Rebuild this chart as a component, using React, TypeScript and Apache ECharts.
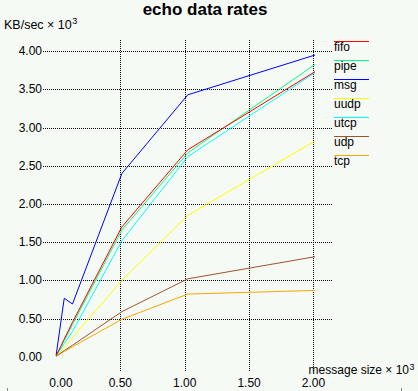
import React, { useEffect, useRef } from "react";
import * as echarts from "echarts";

const xValues = [0.001, 0.064, 0.128, 0.512, 1.024, 2.048];
const seriesNames = ["fifo", "pipe", "msg", "uudp", "utcp", "udp", "tcp"];
const seriesColors = ["#ff0000", "#00ff7f", "#0000ff", "#ffff00", "#00ffff", "#a0522d", "#ffa500"];
const fifo = [0.01, 0.23, 0.45, 1.7, 2.71, 3.77];
const pipe = [0.01, 0.21, 0.42, 1.66, 2.67, 3.87];
const msg = [0.02, 0.765, 0.69, 2.4, 3.43, 3.97];
const uudp = [0.005, 0.12, 0.25, 1.0, 1.85, 2.86];
const utcp = [0.01, 0.17, 0.33, 1.52, 2.62, 3.76];
const udp = [0.005, 0.08, 0.15, 0.59, 1.02, 1.32];
const tcp = [0.005, 0.07, 0.13, 0.49, 0.82, 0.87];
const seriesValues = [fifo, pipe, msg, uudp, utcp, udp, tcp];
const xTicks = [0.5, 1.0, 1.5, 2.0];
const yTicks = [0.5, 1.0, 1.5, 2.0, 2.5, 3.0, 3.5, 4.0];

const FONT = "'Liberation Sans', Arial, Helvetica, sans-serif";

function measure(text: string, font: string) {
  const c = document.createElement("canvas").getContext("2d");
  if (!c) return text.length * 6.5;
  c.font = font;
  return c.measureText(text).width;
}

export default function App() {
  const ref = useRef<HTMLDivElement>(null);
  useEffect(() => {
    document.body.style.margin = "0";
    const chart = echarts.init(ref.current!, null, { renderer: "svg" });
    const series: any[] = seriesNames
      .map((name, i) => ({
        name,
        type: "line",
        data: xValues.map((x, j) => [x, seriesValues[i][j]]),
        showSymbol: false,
        symbol: "none",
        clip: false,
        lineStyle: { color: seriesColors[i], width: 1 },
        itemStyle: { color: seriesColors[i] },
        z: 2 + (seriesNames.length - i),
      }))
      .reverse();
    chart.setOption({
      animation: false,
      backgroundColor: "#f5faf5",
      textStyle: { fontFamily: FONT },
      grid: { left: 56, right: 104.6, top: 51.3, bottom: 34.3 },
      xAxis: {
        type: "value",
        min: 0,
        max: 2,
        interval: 0.5,
        axisLine: { show: false },
        axisTick: { show: false },
        splitLine: { show: false },
        axisLabel: {
          margin: 20,
          color: "#000",
          fontSize: 12,
          fontFamily: FONT,
          formatter: (v: number) => (v === 0 ? "{z|0.00}" : v.toFixed(2)),
          rich: { z: { padding: [0, 0, 0, 10], fontSize: 12, fontFamily: FONT, color: "#000" } },
        },
      },
      yAxis: {
        type: "value",
        min: 0,
        max: 4,
        interval: 0.5,
        axisLine: { show: false },
        axisTick: { show: false },
        splitLine: { show: false },
        axisLabel: {
          margin: 14,
          color: "#000",
          fontSize: 12,
          fontFamily: FONT,
          formatter: (v: number) => v.toFixed(2),
        },
      },
      series,
    });

    const px = (x: number, y: number) =>
      chart.convertToPixel({ xAxisIndex: 0, yAxisIndex: 0 }, [x, y]) as number[];

    const graphics: any[] = [];
    const dash = { stroke: "#000", lineWidth: 1, lineDash: [1, 1] };
    yTicks.forEach((v) => {
      const p = px(0, v);
      const y = Math.round(p[1]) + 0.5;
      graphics.push({ type: "line", z: 0, silent: true, shape: { x1: 43, y1: y, x2: 333, y2: y }, style: dash });
    });
    xTicks.forEach((v) => {
      const p = px(v, 0);
      const x = Math.round(p[0]) + 0.5;
      graphics.push({ type: "line", z: 0, silent: true, shape: { x1: x, y1: 40, x2: x, y2: 372 }, style: dash });
    });
    seriesNames.forEach((name, i) => {
      const ly = 41.5 + 19 * i;
      graphics.push({
        type: "line",
        z: 1,
        silent: true,
        shape: { x1: 334, y1: ly, x2: 369, y2: ly },
        style: { stroke: seriesColors[i], lineWidth: 1 },
      });
      graphics.push({
        type: "text",
        z: 1,
        x: 334,
        y: 47.3 + 19 * i,
        style: { text: name, fill: "#000", font: `12px ${FONT}`, textAlign: "left", textVerticalAlign: "middle" },
      });
    });
    graphics.push({
      type: "text",
      x: 205,
      y: 9.5,
      style: { text: "echo data rates", fill: "#000", font: `bold 17px ${FONT}`, textAlign: "center", textVerticalAlign: "middle" },
    });
    const fY = `12.5px ${FONT}`;
    const fX = `12px ${FONT}`;
    const yName = "KB/sec × 10";
    const xName = "message size × 10";
    const yNameW = measure(yName, fY);
    const xNameW = measure(xName, fX);
    graphics.push({
      type: "text",
      x: 4,
      y: 24.7,
      style: { text: yName, fill: "#000", font: fY, textAlign: "left", textVerticalAlign: "middle" },
    });
    graphics.push({
      type: "text",
      x: 4 + yNameW + 0.5,
      y: 21.2,
      style: { text: "3", fill: "#000", font: `9px ${FONT}`, textAlign: "left", textVerticalAlign: "middle" },
    });
    graphics.push({
      type: "text",
      x: 409.5 - xNameW - 0.5,
      y: 370.2,
      style: { text: xName, fill: "#000", font: fX, textAlign: "left", textVerticalAlign: "middle" },
    });
    graphics.push({
      type: "text",
      x: 409.5,
      y: 366.5,
      style: { text: "3", fill: "#000", font: `9px ${FONT}`, textAlign: "left", textVerticalAlign: "middle" },
    });
    graphics.push({ type: "line", silent: true, shape: { x1: 7.5, y1: 388, x2: 7.5, y2: 391 }, style: { stroke: "#888", lineWidth: 1 } });
    graphics.push({ type: "line", silent: true, shape: { x1: 401.5, y1: 388, x2: 401.5, y2: 391 }, style: { stroke: "#888", lineWidth: 1 } });

    chart.setOption({ graphic: graphics });
    return () => chart.dispose();
  }, []);
  return <div ref={ref} style={{ width: 418, height: 391, position: "absolute", left: 0, top: 0 }} />;
}
